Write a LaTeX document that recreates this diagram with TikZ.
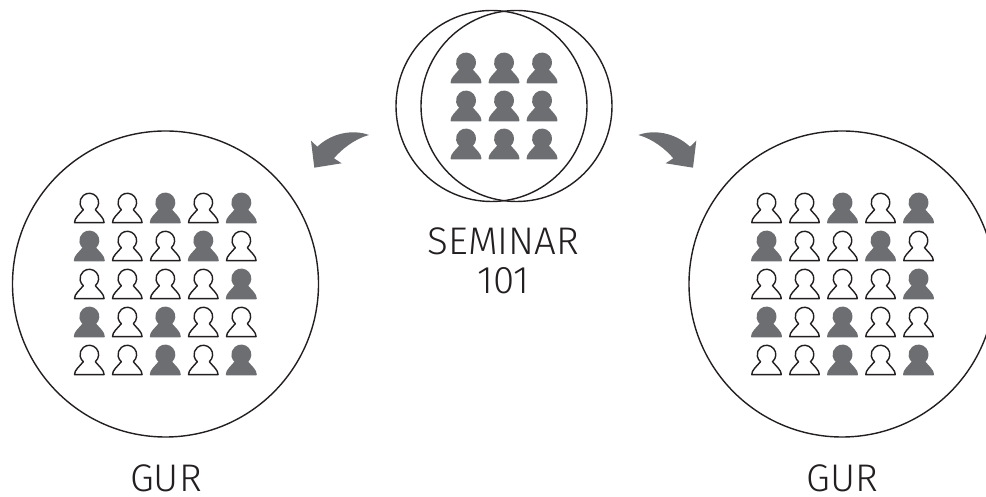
\documentclass[tikz,border=0pt]{standalone}
\usepackage{fontspec}
\setmainfont{Fira Sans Light}
\definecolor{inkline}{HTML}{231F20}
\definecolor{inkfill}{HTML}{6D6E71}
\tikzset{
  ring/.style =
  { shape        = circle,
    draw         = inkline,
    line width   = 1.4pt,
    inner sep    = 0pt },
  caption/.style =
  { align     = center,
    text      = inkline,
    inner sep = 0pt,
    font      = \fontsize{38.5}{38.5}\selectfont },
  f/.style =
  { draw = inkfill,
    fill = inkfill },
  o/.style =
  { draw = inkline,
    fill = white },
  pics/person/.style =
  { code =
    { \path[#1, line width = 1.4pt, line join = round]
        (-14.8,0) -- (14.8,0)
        .. controls (14.8,4.5) and (10,8) .. (6,12.9)
        arc[start angle = -50, end angle = 230, radius = 9.3]
        .. controls (-10,8) and (-14.8,4.5) .. (-14.8,0) -- cycle;
    } },
  pics/swoop/.style =
  { code =
    { \fill[inkfill]
        (0,0) coordinate (-tail)
        .. controls (-15,5.5) and (-36,3) .. (-51.7,-11.7)
        -- (-58,-5.7) -- (-54.7,-32.7) -- (-27.3,-28.3) -- (-35,-23.3)
        .. controls (-28,-15) and (-15,-4) .. (0,0) -- cycle;
    } }
}

\begin{document}
\begin{tikzpicture}[x = 1pt, y = 1pt]
  \clip (0,0) rectangle (986,497);

  % the three groups
  \node[ring, minimum size = 191pt] (front) at (491.5,391) {};
  \node[ring, minimum size = 191pt] (back)  at (516.5,391) {};
  \node[ring, minimum size = 306pt] (left)  at (165.5,213) {};
  \node[ring, minimum size = 306pt] (right) at (842,213) {};

  \node[caption] (seminar)   at (503.5,236) {SEMINAR\\101};
  \node[caption] (gur left)  at (166,19) {GUR};
  \node[caption] (gur right) at (842.5,19) {GUR};

  \pic (swoop left)  at (369,362) {swoop};
  \pic[xscale = -1] (swoop right) at (638.3,362) {swoop};

  % seminar crowd
  \foreach \r in {0,1,2}
    \foreach \c in {0,1,2}
      \pic (mid-\r-\c) at (466 + 38*\c, 414.4 - 38*\r) {person = f};

  % both big crowds share one pattern
  \foreach \kinds [count = \r from 0] in
    {{o,o,f,o,f},{f,o,o,f,o},{o,o,o,o,f},{f,o,f,o,o},{o,o,f,o,f}}
    \foreach \k [count = \c from 0] in \kinds
    {
      \pic (l-\r-\c) at (89.3 + 38*\c, 274.4 - 38*\r) {person = \k};
      \pic (r-\r-\c) at (766.5 + 38*\c, 274.4 - 38*\r) {person = \k};
    }
\end{tikzpicture}
\end{document}
